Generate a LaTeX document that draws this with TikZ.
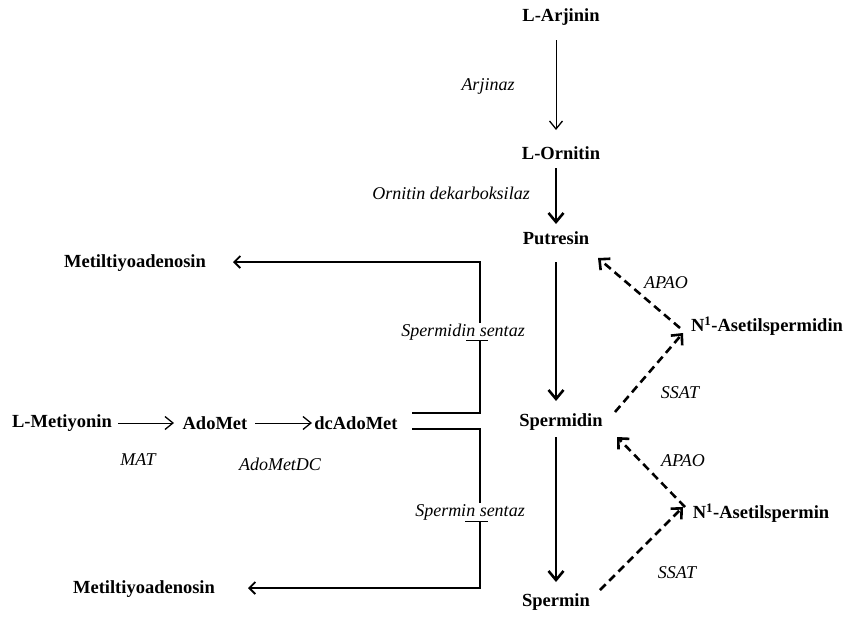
\documentclass[tikz,border=0pt]{standalone}
\usepackage{fontspec}
\setmainfont{Liberation Serif}
\usetikzlibrary{arrows.meta}
\begin{document}
\begin{tikzpicture}[x=1pt,y=-1pt,
  met/.style={font=\fontsize{18.5}{20}\selectfont\bfseries, inner sep=1pt},
  enz/.style={font=\fontsize{18}{20}\selectfont\itshape, inner sep=1pt},
  thinarr/.style={line width=1pt,-{Straight Barb[length=8pt,width=13pt,line width=1.3pt]}},
  boldarr/.style={line width=2.6pt,-{Straight Barb[length=9pt,width=15pt]}},
  dasharr/.style={line width=2.6pt,dash pattern=on 8pt off 5pt,-{Straight Barb[length=8pt,width=15pt]}},
  linarr/.style={line width=1.2pt,-{Straight Barb[length=6pt,width=12pt,line width=1.8pt]}}]
\useasboundingbox (0,0) rectangle (846,619);
% metabolites
\node[met] (arg) at (561,17) {L-Arjinin};
\node[met] (orn) at (561,153) {L-Ornitin};
\node[met] (put) at (556,238) {Putresin};
\node[met] (spd) at (561,422) {Spermidin};
\node[met] (spm) at (556,602) {Spermin};
\node[met] (nspd) at (767,326) {N\textsuperscript{1}-Asetilspermidin};
\node[met] (nspm) at (761,513) {N\textsuperscript{1}-Asetilspermin};
\node[met] (mta1) at (135,263) {Metiltiyoadenosin};
\node[met] (mta2) at (144,589) {Metiltiyoadenosin};
\node[met] (lmet) at (62,423) {L-Metiyonin};
\node[met] (ado) at (215,423) {AdoMet};
\node[met] (dca) at (356,423) {dcAdoMet};
% enzymes
\node[enz] (e1) at (488,86) {Arjinaz};
\node[enz] (e2) at (451,193) {Ornitin dekarboksilaz};
\node[enz] (e3) at (138,460) {MAT};
\node[enz] (e4) at (280,464) {AdoMetDC};
\node[enz] (a1) at (666,283) {APAO};
\node[enz] (s1) at (680,393) {SSAT};
\node[enz] (a2) at (683,461) {APAO};
\node[enz] (s2) at (677,573) {SSAT};
% main chain
\draw[thinarr] ([shift={(-5,23)}]arg.center) -- ([shift={(-5,-23)}]orn.center);
\draw[boldarr] ([shift={(-5,15)}]orn.center) -- ([shift={(0,-14)}]put.center);
\draw[boldarr] ([shift={(0,24)}]put.center) -- ([shift={(-5,-21)}]spd.center);
\draw[boldarr] ([shift={(-5,15)}]spd.center) -- ([shift={(0,-20)}]spm.center);
% methionine chain
\draw[thinarr] ([shift={(56,0)}]lmet.center) -- ([shift={(-41,0)}]ado.center);
\draw[thinarr] ([shift={(40,0)}]ado.center) -- ([shift={(-44,0)}]dca.center);
% acetyl cycle
\draw[dasharr] ([shift={(-87,2)}]nspd.center) -- ([shift={(42,20)}]put.center);
\draw[dasharr] ([shift={(54,-10)}]spd.center) -- ([shift={(-84,7)}]nspd.center);
\draw[dasharr] ([shift={(-76,-6)}]nspm.center) -- ([shift={(56,15)}]spd.center);
\draw[dasharr] ([shift={(44,-12)}]spm.center) -- ([shift={(-78,-6)}]nspm.center);
% synthase branches
\coordinate (j1) at (480,262);
\coordinate (j2) at (480,588);
\draw[linarr] ([shift={(56,-10)}]dca.center) -| (j1) -- ([shift={(98,-1)}]mta1.center);
\draw[linarr,line width=1.6pt] ([shift={(56,6)}]dca.center) -| (j2) -- ([shift={(104,-1)}]mta2.center);
\node[enz,fill=white] (ss1) at (463,332) {Spermidin sentaz};
\node[enz,fill=white] (ss2) at (470,512) {Spermin sentaz};
\draw[line width=0.8pt] (466,340) -- (488,340);
\draw[line width=0.8pt] (465,521) -- (488,521);
\end{tikzpicture}
\end{document}
